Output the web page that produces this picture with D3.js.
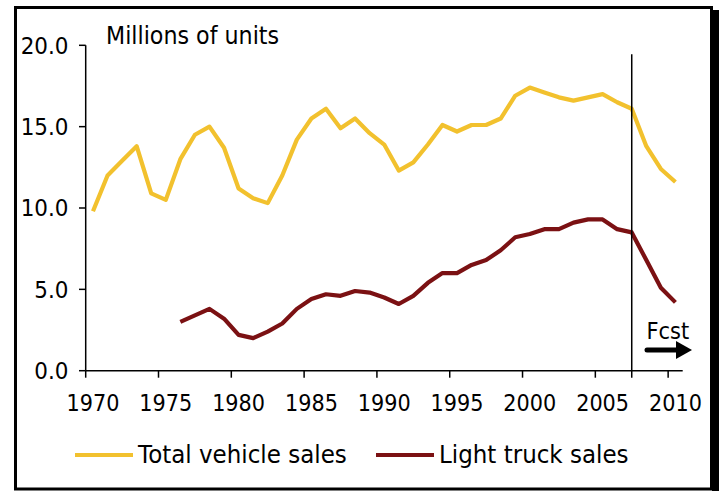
<!DOCTYPE html>
<html><head><meta charset="utf-8">
<script src="https://cdn.jsdelivr.net/npm/d3@7"></script>
<style>
html,body{margin:0;padding:0;background:#fff;}
svg{display:block;font-family:"DejaVu Sans",Verdana,sans-serif;}
</style></head>
<body>
<svg id="chart" width="721" height="491"></svg>
<script>
const years = d3.range(1970, 2011);
const totalSales = [9.8,12.0,12.9,13.8,10.9,10.5,13.0,14.5,15.0,13.7,
  11.2,10.6,10.3,12.0,14.2,15.5,16.1,14.9,15.5,14.6,
  13.9,12.3,12.8,13.9,15.1,14.7,15.1,15.1,15.5,16.9,
  17.4,17.1,16.8,16.6,16.8,17.0,16.5,16.1,13.8,12.4,11.6];
const truckSales = [null,null,null,null,null,null,3.0,3.4,3.8,3.2,
  2.2,2.0,2.4,2.9,3.8,4.4,4.7,4.6,4.9,4.8,
  4.5,4.1,4.6,5.4,6.0,6.0,6.5,6.8,7.4,8.2,
  8.4,8.7,8.7,9.1,9.3,9.3,8.7,8.5,6.8,5.1,4.2];
const yTicks = [0, 5, 10, 15, 20];
const xTickYears = [1970,1975,1980,1985,1990,1995,2000,2005,2010];
const forecastYear = 2007;
const seriesNames = ["Total vehicle sales", "Light truck sales"];
const colors = ["#F2C12E", "#7B1113"];

const svg = d3.select("#chart");
const VS = 1.09; // vertical stretch of glyphs
function txt(px, py, size, anchor, s){
  return svg.append("text")
    .attr("transform", `translate(${px},${py}) scale(1,${VS})`)
    .attr("font-size", size).attr("text-anchor", anchor).attr("fill", "#000").text(s);
}

// frame with shadow
svg.append("rect").attr("x",712).attr("y",10).attr("width",7).attr("height",481).attr("fill","#000");
svg.append("rect").attr("x",15.5).attr("y",7.5).attr("width",696).attr("height",481.5)
  .attr("fill","#fff").attr("stroke","#000").attr("stroke-width",3);

const x = d3.scaleBand().domain(years).range([85.7, 682.7]).padding(0);
const bw = x.bandwidth();
const cx = d => x(d) + bw/2;
const y = d3.scaleLinear().domain([0,20]).range([370.7, 45.3]);

const ax = svg.append("g").attr("stroke","#000").attr("stroke-width",1.5);
// y axis
ax.append("line").attr("x1",85.7).attr("x2",85.7).attr("y1",y(20)).attr("y2",y(0));
ax.selectAll(".yt").data(yTicks).enter().append("line")
  .attr("x1",79).attr("x2",85.7).attr("y1",d=>y(d)).attr("y2",d=>y(d));
yTicks.forEach(d => txt(68.5, y(d) + 8.3, 21.5, "end", d.toFixed(1)));
// x axis
ax.append("line").attr("x1",85.7).attr("x2",682.7).attr("y1",y(0)).attr("y2",y(0));
ax.selectAll(".xt").data(xTickYears).enter().append("line")
  .attr("x1",d=>x(d)).attr("x2",d=>x(d)).attr("y1",y(0)).attr("y2",y(0)+7);
xTickYears.forEach(d => txt(cx(d), 410.5, 20.8, "middle", d));

// title
txt(106, 43.5, 22.2, "start", "Millions of units");

// lines
const line = d3.line().defined(d=>d[1]!=null).x(d=>cx(d[0])).y(d=>y(d[1]));
[totalSales, truckSales].forEach((vals,i)=>{
  svg.append("path").datum(years.map((yr,j)=>[yr, vals[j]]))
    .attr("d", line).attr("fill","none").attr("stroke",colors[i])
    .attr("stroke-width",4.2).attr("stroke-linejoin","round");
});

// forecast line
svg.append("line").attr("x1",cx(forecastYear)).attr("x2",cx(forecastYear))
  .attr("y1",54.3).attr("y2",y(0)+7).attr("stroke","#000").attr("stroke-width",1.5);
txt(646.5, 338.5, 21, "start", "Fcst");
svg.append("line").attr("x1",647).attr("x2",678).attr("y1",350).attr("y2",350)
  .attr("stroke","#000").attr("stroke-width",5).attr("stroke-linecap","round");
svg.append("path").attr("d","M676,341 L692,350 L676,359 Z").attr("fill","#000");

// legend
const legX = [75, 376];
seriesNames.forEach((n,i)=>{
  svg.append("line").attr("x1",legX[i]).attr("x2",legX[i]+58).attr("y1",455).attr("y2",455)
    .attr("stroke",colors[i]).attr("stroke-width",4);
  txt(legX[i]+63, 462.7, 23, "start", n);
});
</script>
</body></html>
